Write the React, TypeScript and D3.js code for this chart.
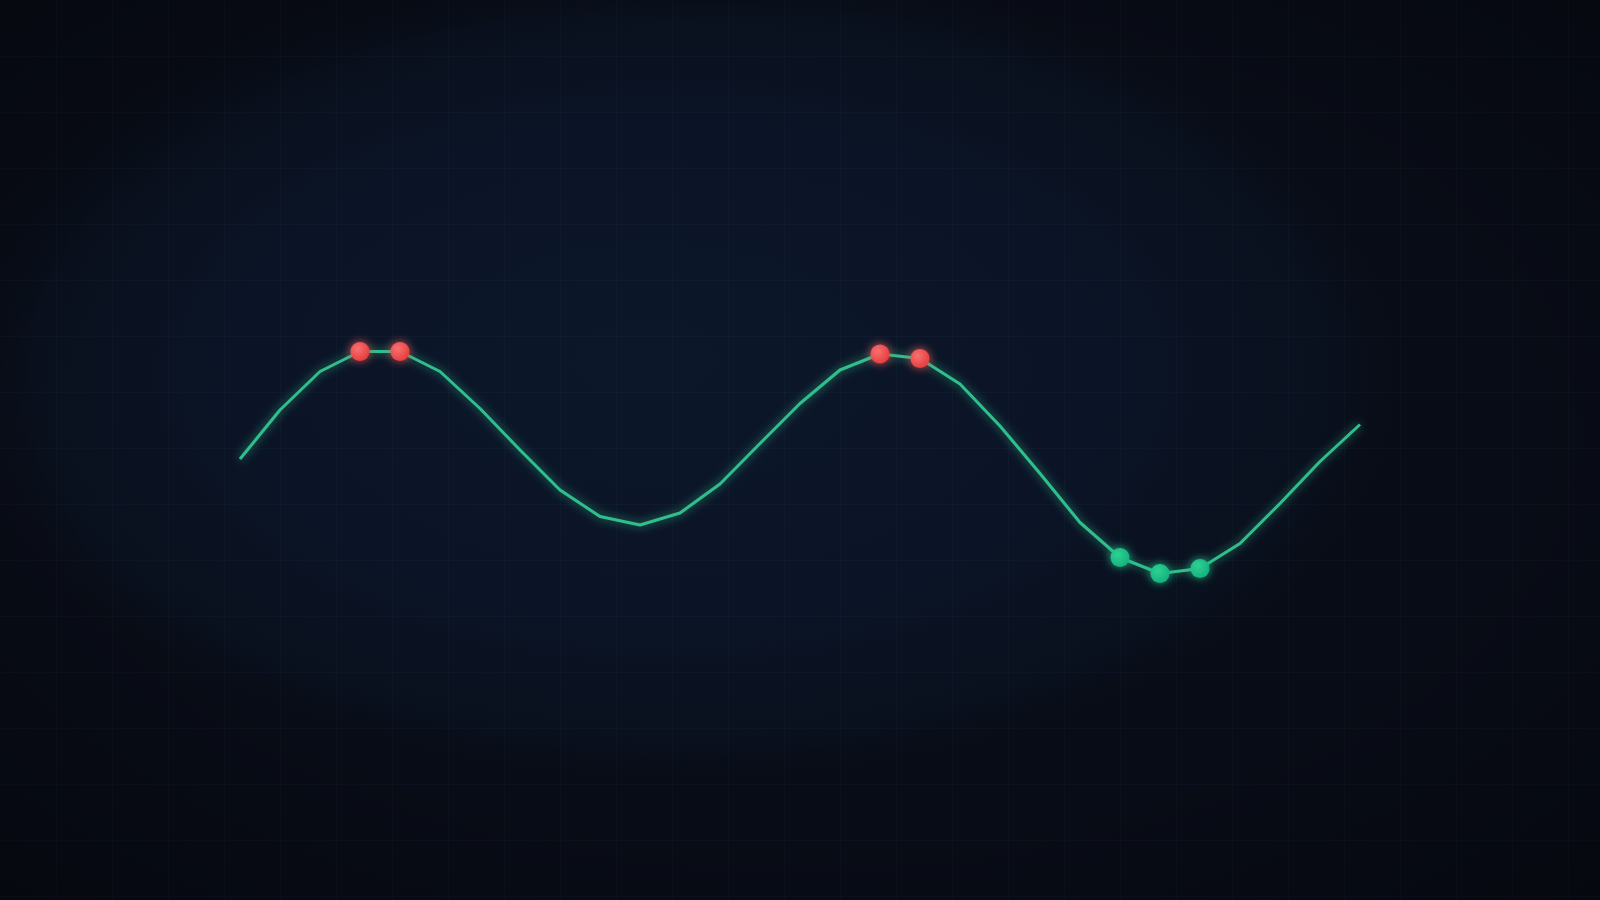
import React from "react";
import * as d3 from "d3";

const W = 1600;
const H = 900;

// series values (index -> value)
const values: number[] = [
  48.2, 58.0, 65.7, 69.7, 69.7, 65.7, 58.3, 50.0, 42.0, 36.7, 35.0, 37.4, 43.2, 51.3,
  59.3, 66.0, 69.2, 68.3, 63.2, 54.8, 45.3, 35.5, 28.5, 25.3, 26.3, 31.3, 39.3, 47.7, 55.1,
];
const highIdx: number[] = [3, 4, 16, 17];
const lowIdx: number[] = [22, 23, 24];
const gridStep = 56;

export default function App() {
  const x = d3.scaleLinear().domain([0, values.length - 1]).range([240, 1360]);
  const y = d3.scaleLinear().domain([0, 100]).range([700, 200]);
  const line = d3
    .line<number>()
    .x((_, i) => x(i))
    .y((d) => y(d))
    .curve(d3.curveLinear);
  const path = line(values) || "";
  const vLines = d3.range(gridStep, W, gridStep);
  const hLines = d3.range(gridStep, H, gridStep);

  return (
    <div style={{ position: "fixed", left: 0, top: 0, width: W, height: H, overflow: "hidden" }}>
      <svg width={W} height={H} style={{ display: "block" }}>
        <defs>
          <radialGradient id="bgGlow" cx="43%" cy="42%" r="46%" fx="40%" fy="40%">
            <stop offset="0%" stopColor="#0c172a" />
            <stop offset="60%" stopColor="#0b1426" />
            <stop offset="88%" stopColor="#0a1221" stopOpacity="0.7" />
            <stop offset="100%" stopColor="#080d18" stopOpacity="0" />
          </radialGradient>
          <radialGradient id="vignette" cx="50%" cy="48%" r="75%">
            <stop offset="60%" stopColor="#000" stopOpacity="0" />
            <stop offset="100%" stopColor="#000" stopOpacity="0.35" />
          </radialGradient>
          <radialGradient id="redDot" cx="38%" cy="35%" r="70%">
            <stop offset="0%" stopColor="#f87171" />
            <stop offset="100%" stopColor="#e53b3b" />
          </radialGradient>
          <radialGradient id="greenDot" cx="38%" cy="35%" r="70%">
            <stop offset="0%" stopColor="#2fd195" />
            <stop offset="100%" stopColor="#14b07c" />
          </radialGradient>
          <filter id="lineGlow" x="-10%" y="-30%" width="120%" height="160%">
            <feGaussianBlur in="SourceGraphic" stdDeviation="5" result="b" />
            <feComponentTransfer in="b" result="b2">
              <feFuncA type="linear" slope="0.8" />
            </feComponentTransfer>
            <feMerge>
              <feMergeNode in="b2" />
              <feMergeNode in="SourceGraphic" />
            </feMerge>
          </filter>
          <filter id="dotGlow" x="-100%" y="-100%" width="300%" height="300%">
            <feGaussianBlur in="SourceGraphic" stdDeviation="5" result="b" />
            <feComponentTransfer in="b" result="b2">
              <feFuncA type="linear" slope="0.9" />
            </feComponentTransfer>
            <feMerge>
              <feMergeNode in="b2" />
              <feMergeNode in="SourceGraphic" />
            </feMerge>
          </filter>
        </defs>
        <rect width={W} height={H} fill="#080c16" />
        <rect width={W} height={H} fill="url(#bgGlow)" />
        <g stroke="#8aa0c0" strokeOpacity={0.04} strokeWidth={1}>
          {vLines.map((v) => (
            <line key={"v" + v} x1={v + 0.5} x2={v + 0.5} y1={0} y2={H} />
          ))}
          {hLines.map((h) => (
            <line key={"h" + h} x1={0} x2={W} y1={h + 0.5} y2={h + 0.5} />
          ))}
        </g>
        <rect width={W} height={H} fill="url(#vignette)" />
        <path
          d={path}
          fill="none"
          stroke="#2fbf8c"
          strokeWidth={3}
          strokeLinejoin="round"
          filter="url(#lineGlow)"
        />
        {highIdx.map((i) => (
          <circle key={"h" + i} cx={x(i)} cy={y(values[i])} r={9.5} fill="url(#redDot)" filter="url(#dotGlow)" />
        ))}
        {lowIdx.map((i) => (
          <circle key={"l" + i} cx={x(i)} cy={y(values[i])} r={9.5} fill="url(#greenDot)" filter="url(#dotGlow)" />
        ))}
      </svg>
    </div>
  );
}
